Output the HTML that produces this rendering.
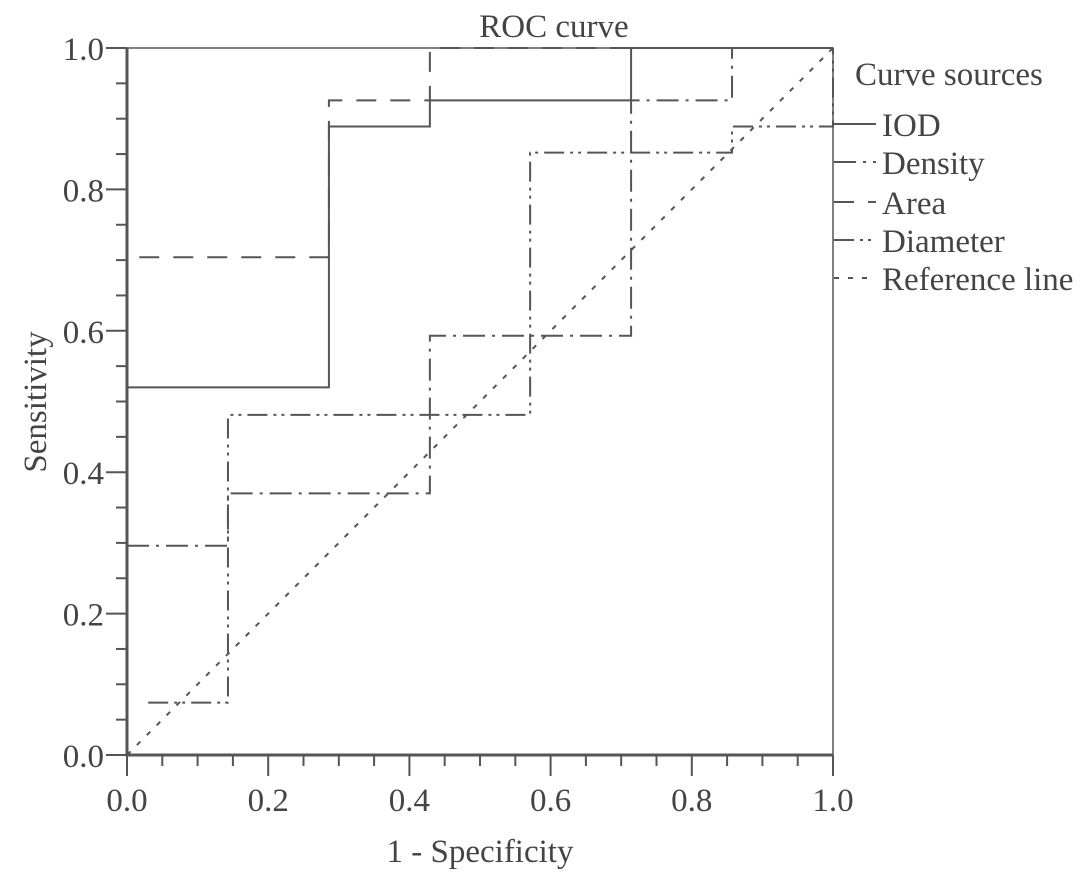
<!DOCTYPE html>
<html><head><meta charset="utf-8"><style>
html,body{margin:0;padding:0;background:#fff;}
svg{display:block;font-family:"Liberation Serif",serif;}
</style></head><body>
<svg id="chart" width="1087" height="882" viewBox="0 0 1087 882" xmlns="http://www.w3.org/2000/svg">
<text x="554" y="37" font-size="33" text-anchor="middle" fill="#444">ROC curve</text>
<text x="480" y="862" font-size="33" text-anchor="middle" fill="#444">1 - Specificity</text>
<text x="0" y="0" font-size="33" text-anchor="middle" fill="#444" transform="translate(46,402) rotate(-90)">Sensitivity</text>
<text x="855" y="85" font-size="33" fill="#444">Curve sources</text>
<g id="axes"></g><g id="series"></g><g id="legend"></g>
</svg>
<script>
const tickValues=[0,0.2,0.4,0.6,0.8,1.0];
const tickLabels=["0.0","0.2","0.4","0.6","0.8","1.0"];
const seriesNames=["IOD","Density","Area","Diameter","Reference line"];
const iodX=[0,0,0.286,0.286,0.429,0.429,0.714,0.714,1];
const iodY=[0,0.52,0.52,0.889,0.889,0.926,0.926,1,1];
const densityX=[0,0.143,0.143,0.429,0.429,0.714,0.714,0.857,0.857,1];
const densityY=[0.296,0.296,0.37,0.37,0.593,0.593,0.926,0.926,1,1];
const areaX=[0,0,0.286,0.286,0.429,0.429,1];
const areaY=[0,0.704,0.704,0.926,0.926,1,1];
const diameterX=[0.03,0.143,0.143,0.571,0.571,0.857,0.857,1,1];
const diameterY=[0.074,0.074,0.481,0.481,0.852,0.852,0.889,0.889,1];
const refX=[0,1];
const refY=[0,1];
const NS="http://www.w3.org/2000/svg";
const X0=127,X1=833,Y0=755,Y1=48;
function xs(v){return X0+v*(X1-X0);}
function ys(v){return Y0-v*(Y0-Y1);}
const col="#555";
function mk(tag,attrs,parent){const e=document.createElementNS(NS,tag);for(const k in attrs)e.setAttribute(k,attrs[k]);parent.appendChild(e);return e;}
const axes=document.getElementById('axes');
let fr=mk('rect',{x:X0,y:Y1,width:X1-X0,height:Y0-Y1,fill:'none',stroke:col,'stroke-width':1.5},axes);


let ax=mk('path',{d:`M${X0},${Y1}V${Y0}H${X1}`,fill:'none',stroke:col,'stroke-width':3},axes);


for(let i=0;i<=20;i++){
  const v=i/20, major=i%4===0;
  const len=major?21:11;
  let t=mk('line',{x1:X0-len,x2:X0,y1:ys(v),y2:ys(v),stroke:col,'stroke-width':2},axes);
  
  
  let t2=mk('line',{x1:xs(v),x2:xs(v),y1:Y0,y2:Y0+len,stroke:col,'stroke-width':2},axes);
  
  
}
tickValues.forEach((v,i)=>{
  let a=mk('text',{x:104,y:ys(v)+12,'font-size':33,'text-anchor':'end',fill:'#444'},axes);
  a.textContent=tickLabels[i];
  
  
  let b=mk('text',{x:xs(v),y:811,'font-size':33,'text-anchor':'middle',fill:'#444'},axes);
  b.textContent=tickLabels[i];
  
  
});
const dashes=["","22,7,3,7","20,14","20,6,3,5,3,6","5,9"];
const sx=[iodX,densityX,areaX,diameterX,refX], sy=[iodY,densityY,areaY,diameterY,refY];
const sg=document.getElementById('series');
sx.forEach((xa,k)=>{
  const d=xa.map((x,i)=>(i?'L':'M')+xs(x)+','+ys(sy[k][i])).join('');
  const attrs={d:d,fill:'none',stroke:col,'stroke-width':2};
  if(dashes[k])attrs['stroke-dasharray']=dashes[k];
  let p=mk('path',attrs,sg);
  
  
});
const lg=document.getElementById('legend');
const legY=[124,162,202,240,278];
seriesNames.forEach((n,k)=>{
  const attrs={x1:834,x2:876,y1:legY[k],y2:legY[k],stroke:col,'stroke-width':2};
  if(dashes[k])attrs['stroke-dasharray']=dashes[k];
  let l=mk('line',attrs,lg);
  
  
  let t=mk('text',{x:882,y:legY[k]+12,'font-size':33,fill:'#444'},lg);
  t.textContent=n;
  
  
});
</script>
</body></html>
